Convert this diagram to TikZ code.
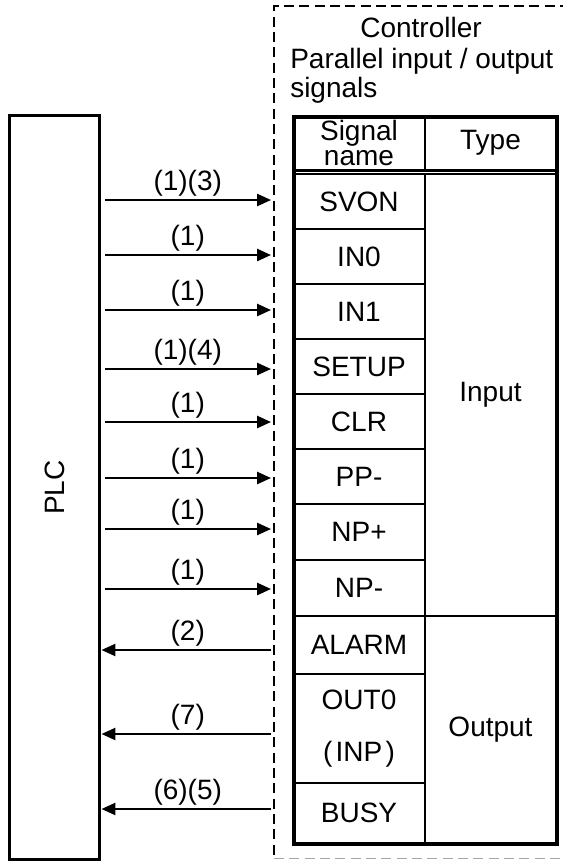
\documentclass[tikz,border=0pt]{standalone}
\usepackage{fontspec}
\setmainfont{Liberation Sans}
\usetikzlibrary{arrows.meta}
\begin{document}
\begin{tikzpicture}[x=0.75pt,y=-0.75pt,
  every node/.style={font=\fontsize{21}{23}\selectfont, inner sep=0pt},
  cell/.style={draw, line width=1.5pt, anchor=north west, align=center},
  namecell/.style={cell, minimum width=99pt},
  typecell/.style={cell, minimum width=98.25pt},
  dashline/.style={line width=1.1pt, dash pattern=on 7.5pt off 4pt},
  inarr/.style={line width=1.9pt, -{Triangle[length=10.5pt,width=9pt]}, shorten <=3pt, shorten >=2.2pt},
  outarr/.style={line width=1.9pt, -{Triangle[length=10.5pt,width=9pt]}, shorten <=2pt},
  lbl/.style={above=1.5pt}
]
\useasboundingbox (0,0) rectangle (563,861);

% controller dashed frame
\node[minimum width=244.5pt, minimum height=639pt, anchor=north west] (ctrl) at (274,6) {};
\draw[dashline] (ctrl.north east) -- (ctrl.north west) -- (ctrl.south west);
\draw[dashline, black!35] (ctrl.south west) -- (ctrl.south east);

% titles
\node[anchor=base] (t1) at (421,37) {Controller};
\node[anchor=base west] (t2) at (290,68) {Parallel input / output};
\node[anchor=base west] (t3) at (290,97) {signals};

% PLC
\node[draw, line width=2.6pt, minimum width=67.5pt, minimum height=558pt, anchor=north west] (plc) at (8,114) {};
\node[rotate=90] (plctext) at (plc.center) {PLC};

% table header
\node[namecell, minimum height=40.5pt, font=\fontsize{21}{19}\selectfont] (hname) at (292,115) {Signal\\name};
\node[typecell, minimum height=40.5pt] (htype) at (424,115) {Type};

% signal names
\node[namecell, minimum height=41.25pt] (svon)  at (292,173) {SVON};
\node[namecell, minimum height=41.25pt] (in0)   at (292,228) {IN0};
\node[namecell, minimum height=41.25pt] (in1)   at (292,283) {IN1};
\node[namecell, minimum height=41.25pt] (setup) at (292,338) {SETUP};
\node[namecell, minimum height=41.25pt] (clr)   at (292,393) {CLR};
\node[namecell, minimum height=41.25pt] (ppm)   at (292,448) {PP-};
\node[namecell, minimum height=42pt]    (npp)   at (292,503) {NP+};
\node[namecell, minimum height=42pt]    (npm)   at (292,559) {NP-};
\node[namecell, minimum height=43.5pt]  (alarm) at (292,615) {ALARM};
\node[namecell, minimum height=81.75pt, font=\fontsize{21}{39}\selectfont] (out0) at (292,673) {OUT0\\(\hspace{2.5pt}INP\hspace{2.5pt})};
\node[namecell, minimum height=45pt]    (busy)  at (292,782) {BUSY};

% types
\node[typecell, minimum height=331.5pt] (tin)  at (424,173) {Input};
\node[typecell, minimum height=170.25pt] (tout) at (424,615) {Output};

% double line under header
\draw[line width=1.5pt] (hname.south west) -- (htype.south east);

% thick outer border
\node[draw, line width=3pt, minimum width=197.25pt, minimum height=545.25pt, anchor=north west] (tbl) at (292,115) {};

% arrow levels
\coordinate (a1) at (0,200);
\coordinate (a2) at (0,255);
\coordinate (a3) at (0,310);
\coordinate (a4) at (0,369);
\coordinate (a5) at (0,422);
\coordinate (a6) at (0,478);
\coordinate (a7) at (0,529);
\coordinate (a8) at (0,589);
\coordinate (a9) at (0,650);
\coordinate (a10) at (0,734);
\coordinate (a11) at (0,809);

\draw[inarr] (plc.east |- a1) -- (ctrl.west |- a1) node[midway, lbl] {(1)(3)};
\draw[inarr] (plc.east |- a2) -- (ctrl.west |- a2) node[midway, lbl] {(1)};
\draw[inarr] (plc.east |- a3) -- (ctrl.west |- a3) node[midway, lbl] {(1)};
\draw[inarr] (plc.east |- a4) -- (ctrl.west |- a4) node[midway, lbl] {(1)(4)};
\draw[inarr] (plc.east |- a5) -- (ctrl.west |- a5) node[midway, lbl] {(1)};
\draw[inarr] (plc.east |- a6) -- (ctrl.west |- a6) node[midway, lbl] {(1)};
\draw[inarr] (plc.east |- a7) -- (ctrl.west |- a7) node[midway, lbl] {(1)};
\draw[inarr] (plc.east |- a8) -- (ctrl.west |- a8) node[midway, lbl] {(1)};
\draw[outarr] (ctrl.west |- a9) -- (plc.east |- a9) node[midway, lbl] {(2)};
\draw[outarr] (ctrl.west |- a10) -- (plc.east |- a10) node[midway, lbl] {(7)};
\draw[outarr] (ctrl.west |- a11) -- (plc.east |- a11) node[midway, lbl] {(6)(5)};
\end{tikzpicture}
\end{document}
